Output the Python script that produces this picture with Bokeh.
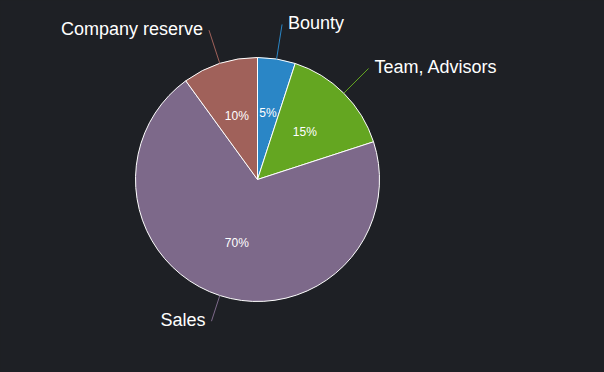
import numpy as np
from bokeh.plotting import figure
from bokeh.models import ColumnDataSource, Range1d, GlobalInlineStyleSheet
from bokeh.core.properties import value
from bokeh.embed import file_html
from bokeh.resources import INLINE

# ---- data ----
categories = ["Bounty", "Team, Advisors", "Sales", "Company reserve"]
shares = [5, 15, 70, 10]
pct_labels = ["5%", "15%", "70%", "10%"]

# ---- style ----
colors = ["#2a86c6", "#64a621", "#7d698a", "#a0615a"]
leader_len = [35, 35, 27, 35]
BG = "#1e2025"
FONT = "Liberation Sans"

W, H = 604, 372
cx, cy, R = 257, 193, 122   # pie centre / radius in plot units (1 unit = 1 px)

vals = np.array(shares, dtype=float)
frac = vals / vals.sum()
c1 = np.cumsum(frac)
c0 = c1 - frac
a0 = 2 * np.pi * c0           # clockwise from 12 o'clock
a1 = 2 * np.pi * c1
mid = (a0 + a1) / 2

src = ColumnDataSource(dict(
    cat=categories, color=colors, pct=pct_labels,
    start=np.pi / 2 - a1, end=np.pi / 2 - a0,
    lx=cx + 67 * np.sin(mid), ly=cy + 67 * np.cos(mid),
))

p = figure(width=W, height=H, output_backend="svg", toolbar_location=None,
           x_range=Range1d(0, W), y_range=Range1d(0, H),
           min_border=0, background_fill_color=BG, border_fill_color=BG,
           outline_line_color=None)
p.axis.visible = False
p.grid.visible = False
p.stylesheets = [GlobalInlineStyleSheet(css="html, body {background-color: %s;}" % BG)]

p.wedge(x=cx, y=cy, radius=R, start_angle="start", end_angle="end",
        direction="anticlock", fill_color="color", line_color="white",
        line_width=1, source=src)

p.text(x="lx", y="ly", text="pct", text_color="white", text_font=value(FONT),
       text_font_size="12px", text_align="center", text_baseline="middle",
       source=src)

# leader lines and outer labels
ll = np.array(leader_len, dtype=float)
x_in = cx + R * np.sin(mid)
y_in = cy + R * np.cos(mid)
x_out = cx + (R + ll) * np.sin(mid)
y_out = cy + (R + ll) * np.cos(mid)
p.segment(x0=x_in, y0=y_in, x1=x_out, y1=y_out, line_color=colors, line_width=1)

right = np.sin(mid) > 0
tx = np.where(right, x_out + 6, x_out - 6)
align = ["left" if r else "right" for r in right]
lab = ColumnDataSource(dict(x=tx, y=y_out + 1.5, t=categories, a=align))
p.text(x="x", y="y", text="t", text_align="a", text_baseline="middle",
       text_color="white", text_font=value(FONT), text_font_size="18px",
       source=lab)

open("out.html", "w").write(file_html(p, INLINE))
